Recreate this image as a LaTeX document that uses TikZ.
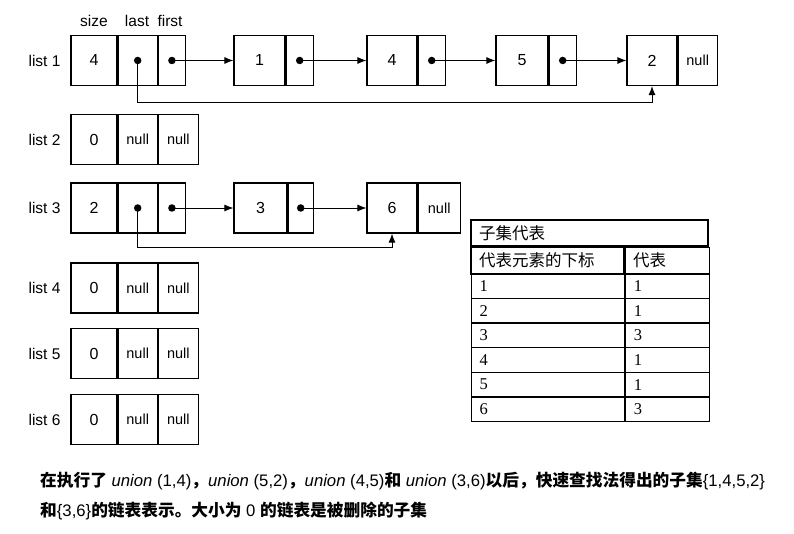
\documentclass[tikz,border=0pt]{standalone}
\usepackage{fontspec}
\setmainfont{Liberation Sans}
\newfontfamily\cjk{Noto Sans CJK SC}
\newfontfamily\tabserif{Liberation Serif}
\usetikzlibrary{arrows.meta, positioning}
\newcommand{\zh}[1]{{\cjk\bfseries #1}}
\tikzset{
  cell/.style={draw, line width=1.2pt, inner sep=0pt, minimum height=50pt, font=\fontsize{16}{19}\selectfont},
  nullcell/.style={cell, font=\fontsize{14.5}{17}\selectfont},
  dot/.style={circle, fill, inner sep=0pt, minimum size=7.5pt},
  ptr/.style={-{Latex[length=9pt,width=7pt]}, line width=0.9pt},
  lbl/.style={font=\fontsize{15.5}{18}\selectfont},
  tcell/.style={draw, line width=1.2pt, inner sep=0pt, inner xsep=8pt, align=left, font=\cjk\fontsize{16.5}{19}\selectfont},
}

\begin{document}
\begin{tikzpicture}[x=1pt, y=-1pt]
  \useasboundingbox (0,0) rectangle (794,534);

  % field names
  \node[lbl] (hsize) at (94,21) {size};
  \node[lbl] (hlast) at (137,21) {last};
  \node[lbl] (hfirst) at (170,21) {first};

  % list 1
  \node[lbl, anchor=east] (lab1) at (64,60.5) {list 1};
  \node[cell, minimum width=46pt] (l1size) at (94,60.5) {4};
  \node[cell, minimum width=39pt, right=0pt of l1size] (l1lastc) {};
  \node[cell, minimum width=27pt, right=0pt of l1lastc] (l1firstc) {};
  \node[dot] (l1last) at (l1lastc) {};
  \node[dot] (l1first) at (l1firstc) {};

  \node[cell, minimum width=51pt] (n1val) at (259.5,60.5) {1};
  \node[cell, minimum width=27pt, right=0pt of n1val] (n1ptrc) {};
  \node[dot] (n1ptr) at (n1ptrc) {};
  \node[cell, minimum width=50pt] (n4val) at (392,60.5) {4};
  \node[cell, minimum width=27pt, right=0pt of n4val] (n4ptrc) {};
  \node[dot] (n4ptr) at (n4ptrc) {};
  \node[cell, minimum width=52pt] (n5val) at (522,60.5) {5};
  \node[cell, minimum width=27pt, right=0pt of n5val] (n5ptrc) {};
  \node[dot] (n5ptr) at (n5ptrc) {};
  \node[cell, minimum width=50pt] (n2val) at (652,60.5) {2};
  \node[nullcell, minimum width=39pt, right=0pt of n2val] (n2null) {null};

  \draw[ptr] (l1first.center) -- (n1val.west);
  \draw[ptr] (n1ptr.center) -- (n4val.west);
  \draw[ptr] (n4ptr.center) -- (n5val.west);
  \draw[ptr] (n5ptr.center) -- (n2val.west);
  \draw[ptr] (l1last.center) -- ++(0,42) -| (n2val.south);

  % list 3
  \node[lbl, anchor=east] (lab3) at (64,208) {list 3};
  \node[cell, minimum width=46pt] (l3size) at (94,208) {2};
  \node[cell, minimum width=39pt, right=0pt of l3size] (l3lastc) {};
  \node[cell, minimum width=27pt, right=0pt of l3lastc] (l3firstc) {};
  \node[dot] (l3last) at (l3lastc) {};
  \node[dot] (l3first) at (l3firstc) {};

  \node[cell, minimum width=53pt] (n3val) at (260.5,208) {3};
  \node[cell, minimum width=25pt, right=0pt of n3val] (n3ptrc) {};
  \node[dot] (n3ptr) at (n3ptrc) {};
  \node[cell, minimum width=50pt] (n6val) at (392,208) {6};
  \node[nullcell, minimum width=42pt, right=0pt of n6val] (n6null) {null};

  \draw[ptr] (l3first.center) -- (n3val.west);
  \draw[ptr] (n3ptr.center) -- (n6val.west);
  \draw[ptr] (l3last.center) -- ++(0,39) -| (n6val.south);

  % empty lists
  \foreach \k/\y in {2/139.5, 4/288, 5/353.5, 6/419.5} {
    \node[lbl, anchor=east] (lab\k) at (64,\y) {list \k};
    \node[cell, minimum width=46pt] (l\k size) at (94,\y) {0};
    \node[nullcell, minimum width=39pt, right=0pt of l\k size] (l\k last) {null};
    \node[nullcell, minimum width=40pt, right=0pt of l\k last] (l\k first) {null};
  }

  % table of representatives
  \node[tcell, text width=221pt, minimum height=26pt] (ttitle) at (589.5,233) {子集代表};
  \node[tcell, text width=137pt, minimum height=27pt, anchor=north west] (thidx) at (ttitle.south west) {代表元素的下标};
  \node[tcell, text width=68pt, minimum height=27pt, right=0pt of thidx] (threp) {代表};
  \foreach \i/\r [count=\k] in {1/1, 2/1, 3/3, 4/1, 5/1, 6/3} {
    \node[tcell, text width=137pt, minimum height=24.7pt, anchor=north west, font=\tabserif\fontsize{16.5}{19}\selectfont] (tidx\k) at (471,{273+24.67*(\k-1)}) {\i};
    \node[tcell, text width=68pt, minimum height=24.7pt, right=0pt of tidx\k, font=\tabserif\fontsize{16.5}{19}\selectfont] (trep\k) {\r};
  }

  % caption
  \node[anchor=west, inner sep=0pt, font=\fontsize{16.7}{20}\selectfont] (cap1) at (40,481) {\zh{在执行了} \textit{union} (1,4)\zh{，}\textit{union} (5,2)\zh{，}\textit{union} (4,5)\zh{和} \textit{union} (3,6)\zh{以后，快速查找法得出的子集}\{1,4,5,2\}};
  \node[anchor=west, inner sep=0pt, font=\fontsize{16.7}{20}\selectfont] (cap2) at (40,511) {\zh{和}\{3,6\}\zh{的链表表示。大小为} 0 \zh{的链表是被删除的子集}};
\end{tikzpicture}
\end{document}
